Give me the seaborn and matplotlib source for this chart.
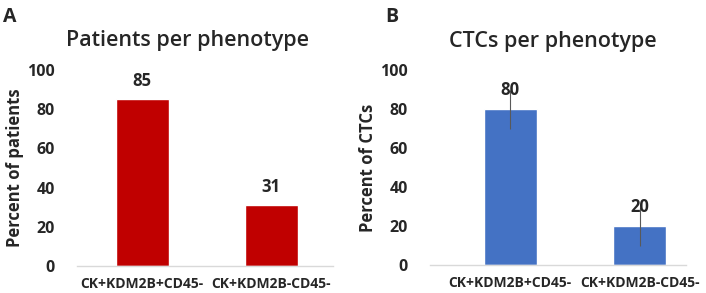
import numpy as np
import pandas as pd
import matplotlib
matplotlib.use("Agg")
import matplotlib.pyplot as plt
import seaborn as sns

# Data
phenotypes = ["CK+KDM2B+CD45-", "CK+KDM2B-CD45-"]
pct_patients = [85, 31]
pct_ctcs = [80, 20]
ctc_err = [10, 10]

sns.set_style("white")
plt.rcParams["font.family"] = ["Open Sans", "DejaVu Sans"]

fig = plt.figure(figsize=(7.06, 2.93), dpi=100)
ax_a = fig.add_axes([0.109, 0.092, 0.363, 0.669])
ax_b = fig.add_axes([0.609, 0.0956, 0.363, 0.665])

df_a = pd.DataFrame({"phenotype": phenotypes, "value": pct_patients})
df_b = pd.DataFrame({"phenotype": phenotypes, "value": pct_ctcs, "err": ctc_err})

sns.barplot(data=df_a, x="phenotype", y="value", color="#C00000", width=0.41,
            saturation=1, ax=ax_a)
sns.barplot(data=df_b, x="phenotype", y="value", color="#4472C4", width=0.41,
            saturation=1, ax=ax_b)

# error bars for CTCs (no caps, thin grey)
ax_b.errorbar(range(len(phenotypes)), df_b["value"], yerr=df_b["err"], fmt="none",
              ecolor="#595959", elinewidth=0.8, capsize=0, zorder=3)

panels = [
    (ax_a, df_a, "Patients per phenotype", "Percent of patients", (-0.505, 1.48), 0.43),
    (ax_b, df_b, "CTCs per phenotype", "Percent of CTCs", (-0.62, 1.36), 0.48),
]
for ax, df, title, ylab, xl, tx in panels:
    ax.set_ylim(0, 100)
    ax.set_xlim(*xl)
    ax.set_yticks([0, 20, 40, 60, 80, 100])
    ax.tick_params(axis="both", length=0)
    ax.tick_params(axis="y", labelsize=11.5, pad=16)
    ax.tick_params(axis="x", labelsize=10, pad=8)
    for lab in ax.get_yticklabels() + ax.get_xticklabels():
        lab.set_fontweight("bold")
    ax.set_xlabel("")
    ax.set_ylabel(ylab, fontsize=12, fontweight="bold", labelpad=2)
    ax.set_title(title, fontsize=15.5, fontweight="semibold", pad=17, x=tx)
    for s in ["top", "right", "left"]:
        ax.spines[s].set_visible(False)
    ax.spines["bottom"].set_color("#D9D9D9")
    ax.spines["bottom"].set_linewidth(1)
    for i, v in enumerate(df["value"]):
        ax.annotate(str(v), (i, v), xytext=(0, 7), textcoords="offset points",
                    ha="center", va="bottom", fontsize=12, fontweight="bold")

fig.text(0.004, 0.975, "A", fontsize=14, fontweight="bold", va="top")
fig.text(0.545, 0.975, "B", fontsize=14, fontweight="bold", va="top")

fig.savefig("out.png", dpi=100)
